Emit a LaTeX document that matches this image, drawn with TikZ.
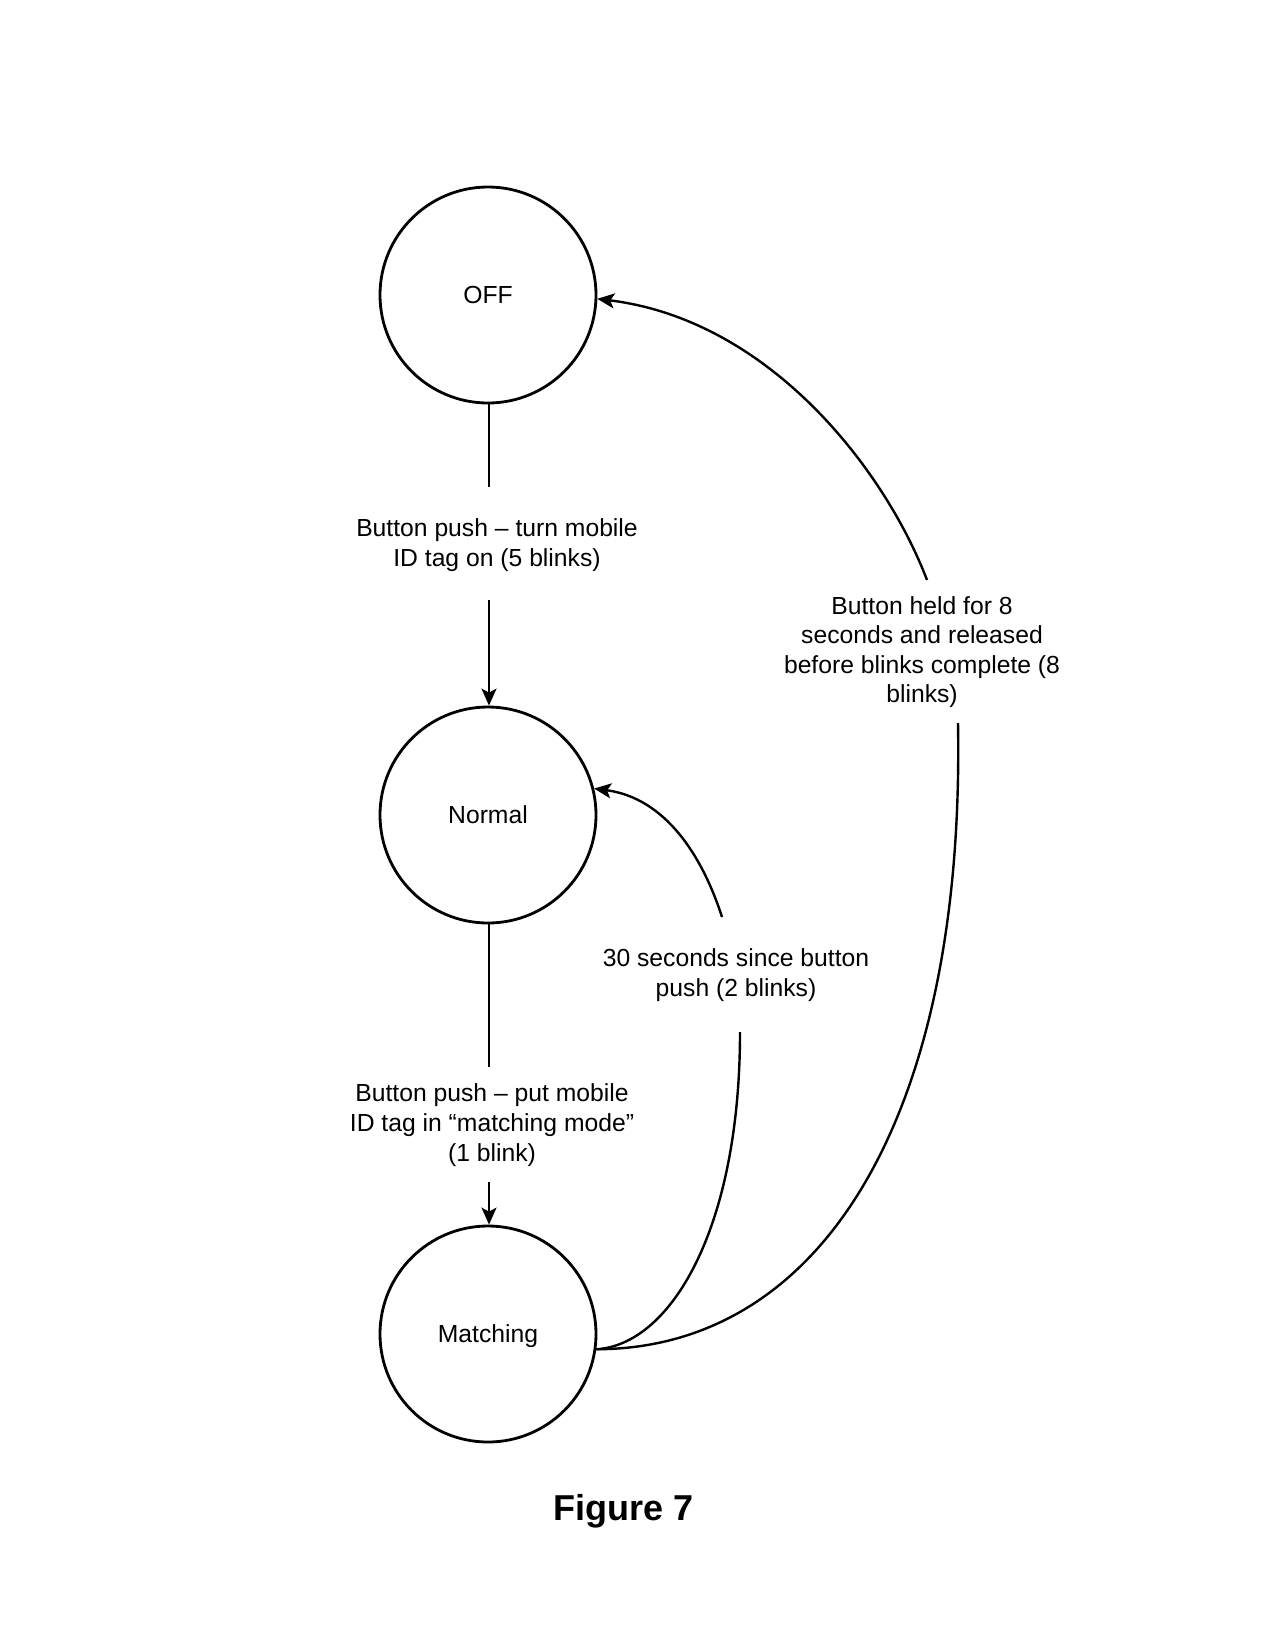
\documentclass[tikz,border=0pt]{standalone}
\usepackage{fontspec}
\setmainfont{Liberation Sans}
\usetikzlibrary{arrows.meta}
\begin{document}
\begin{tikzpicture}[x=0.5pt,y=-0.5pt,
  state/.style={circle,draw,line width=1.4pt,minimum size=108pt,inner sep=0pt,text depth=0pt,
    font=\fontsize{12.35pt}{14.8pt}\selectfont},
  lbl/.style={align=center,inner sep=0pt,font=\fontsize{12.35pt}{14.8pt}\selectfont},
  conn/.style={line width=1.2pt},
  arr/.style={conn,-{Stealth[length=8.5pt,width=7.5pt,inset=2pt]}}]
\useasboundingbox (0,0) rectangle (1275,1650);

% states
\node[state] (off) at (488,295) {OFF};
\node[state] (normal) at (488,815) {Normal};
\node[state] (match) at (488,1334) {Matching};

% labels
\node[lbl] (l1) at (497,545) {Button push -- turn mobile\\ID tag on (5 blinks)};
\node[lbl] (l2) at (492,1125) {Button push -- put mobile\\ID tag in “matching mode”\\(1 blink)};
\node[lbl] (l3) at (736,975) {30 seconds since button\\push (2 blinks)};
\node[lbl] (l4) at (922,652) {Button held for 8\\seconds and released\\before blinks complete (8\\blinks)};
\node[font=\bfseries\fontsize{18pt}{21pt}\selectfont,anchor=base] (fig) at (624,1520) {Figure 7};

% connector break points around labels
\coordinate (e1a) at (489,487);
\coordinate (e1b) at (489,600);
\coordinate (e2a) at (489,1067);
\coordinate (e2b) at (489,1182);
\coordinate (e3a) at (740,1032);
\coordinate (e3b) at (722,917);
\coordinate (e4a) at (958,723);
\coordinate (e4b) at (927,580);

% OFF -> Normal
\draw[conn] (off.south -| e1a) -- (e1a);
\draw[arr] (e1b) -- (normal.north -| e1b);

% Normal -> Matching
\draw[conn] (normal.south -| e2a) -- (e2a);
\draw[arr] (e2b) -- (match.north -| e2b);

% Matching -> Normal
\draw[conn] (match.-8) .. controls (670,1345) and (740,1230) .. (e3a);
\draw[arr] (e3b) .. controls (702,855) and (665,798) .. (normal.14);

% Matching -> OFF
\draw[conn] (match.-8) .. controls (820,1349) and (965,1120) .. (e4a);
\draw[arr] (e4b) .. controls (885,470) and (770,320) .. (off.-2);
\end{tikzpicture}
\end{document}
